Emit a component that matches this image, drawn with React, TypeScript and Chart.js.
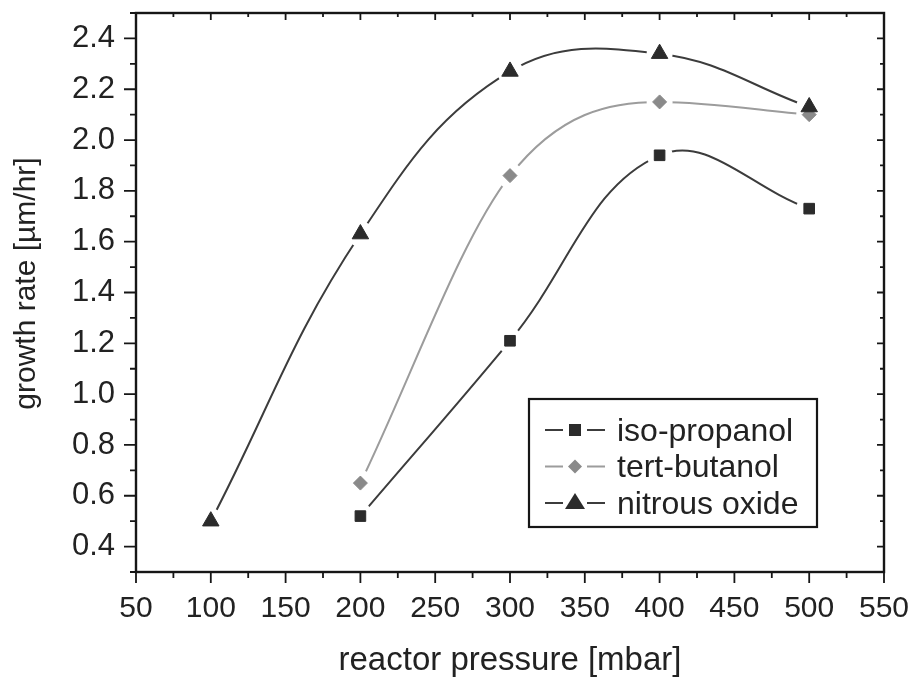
import React, { useEffect, useRef } from 'react';
import { Chart, registerables } from 'chart.js';

Chart.register(...registerables);

// Reactor pressure settings [mbar]
const pressure = [100, 200, 300, 400, 500];

// Growth rate [µm/hr] per precursor (null = not measured)
const isoPropanol = [null, 0.52, 1.21, 1.94, 1.73];
const tertButanol = [null, 0.65, 1.86, 2.15, 2.1];
const nitrousOxide = [0.5, 1.63, 2.27, 2.34, 2.13];

const seriesNames = ['iso-propanol', 'tert-butanol', 'nitrous oxide'];

// Labelled axis ticks
const xTicks = [50, 100, 150, 200, 250, 300, 350, 400, 450, 500, 550];
const yTicks = [0.4, 0.6, 0.8, 1.0, 1.2, 1.4, 1.6, 1.8, 2.0, 2.2, 2.4];

const FONT = "'Liberation Sans', Arial, Helvetica, sans-serif";
const TEXT = '#222';
const FRAME = '#161616';

type Style = {
  line: string;
  marker: string;
  shape: 'rect' | 'rectRot' | 'triangle';
  radius: number;
  curve: 'default' | 'monotone';
};

const styles: Style[] = [
  { line: '#3c3c3c', marker: '#2b2b2b', shape: 'rect', radius: 7.5, curve: 'default' },
  { line: '#9c9c9c', marker: '#8a8a8a', shape: 'rectRot', radius: 7, curve: 'monotone' },
  { line: '#3c3c3c', marker: '#2b2b2b', shape: 'triangle', radius: 9.5, curve: 'default' },
];

const seriesValues = [isoPropanol, tertButanol, nitrousOxide];

function toPoints(values: (number | null)[]) {
  return pressure
    .map((p, i) => ({ x: p, y: values[i] }))
    .filter((pt) => pt.y !== null) as { x: number; y: number }[];
}

// midpoints between labelled ticks, plus one half step beyond each end
function minorTicks(major: number[]) {
  const step = major[1] - major[0];
  const out: number[] = [major[0] - step / 2];
  for (let i = 0; i < major.length - 1; i++) out.push((major[i] + major[i + 1]) / 2);
  out.push(major[major.length - 1] + step / 2);
  return out;
}

const frameAndTicks = {
  id: 'frameAndTicks',
  afterDatasetsDraw(chart: any) {
    const { ctx, chartArea: a, scales } = chart;
    const x = scales.x;
    const y = scales.y;
    ctx.save();
    ctx.strokeStyle = FRAME;
    ctx.lineWidth = 1.8;
    ctx.beginPath();
    const inRange = (v: number, s: any) => v >= s.min - 1e-9 && v <= s.max + 1e-9;
    // bottom/left ticks point outwards, top/right ticks point inwards
    const tickX = (v: number, out: number, inn: number) => {
      if (!inRange(v, x)) return;
      const px = x.getPixelForValue(v);
      ctx.moveTo(px, a.bottom);
      ctx.lineTo(px, a.bottom + out);
      ctx.moveTo(px, a.top);
      ctx.lineTo(px, a.top + inn);
    };
    const tickY = (v: number, out: number, inn: number) => {
      if (!inRange(v, y)) return;
      const py = y.getPixelForValue(v);
      ctx.moveTo(a.left, py);
      ctx.lineTo(a.left - out, py);
      ctx.moveTo(a.right, py);
      ctx.lineTo(a.right - inn, py);
    };
    xTicks.forEach((v) => tickX(v, 11, 7));
    minorTicks(xTicks).forEach((v) => tickX(v, 6, 4));
    yTicks.forEach((v) => tickY(v, 12, 7));
    minorTicks(yTicks).forEach((v) => tickY(v, 6, 4));
    ctx.stroke();

    ctx.lineWidth = 2.4;
    ctx.strokeRect(a.left, a.top, a.right - a.left, a.bottom - a.top);
    ctx.restore();
  },
};

// vertical axis title, centred a little above the middle of the plot
const yTitle = {
  id: 'yTitle',
  afterDraw(chart: any) {
    const { ctx, chartArea: a } = chart;
    ctx.save();
    ctx.translate(27, (a.top + a.bottom) / 2 - 9);
    ctx.rotate(-Math.PI / 2);
    ctx.font = `30px ${FONT}`;
    ctx.fillStyle = TEXT;
    ctx.textAlign = 'center';
    ctx.textBaseline = 'middle';
    ctx.fillText('growth rate [µm/hr]', 0, 0);
    ctx.restore();
  },
};

function drawMarker(ctx: CanvasRenderingContext2D, shape: string, cx: number, cy: number, color: string) {
  ctx.fillStyle = color;
  ctx.beginPath();
  if (shape === 'rect') {
    ctx.rect(cx - 6, cy - 6, 12, 12);
  } else if (shape === 'rectRot') {
    ctx.moveTo(cx, cy - 7);
    ctx.lineTo(cx + 7, cy);
    ctx.lineTo(cx, cy + 7);
    ctx.lineTo(cx - 7, cy);
    ctx.closePath();
  } else {
    ctx.moveTo(cx, cy - 10);
    ctx.lineTo(cx + 10, cy + 6);
    ctx.lineTo(cx - 10, cy + 6);
    ctx.closePath();
  }
  ctx.fill();
}

const boxLegend = {
  id: 'boxLegend',
  afterDraw(chart: any) {
    const { ctx } = chart;
    const left = 529;
    const top = 399;
    const w = 288;
    const h = 128;
    ctx.save();
    ctx.fillStyle = '#fff';
    ctx.fillRect(left, top, w, h);
    ctx.strokeStyle = FRAME;
    ctx.lineWidth = 2.2;
    ctx.strokeRect(left, top, w, h);

    ctx.font = `32px ${FONT}`;
    ctx.textBaseline = 'middle';
    ctx.textAlign = 'left';
    seriesNames.forEach((name, i) => {
      const s = styles[i];
      const cy = top + 31 + i * 36.5;
      ctx.strokeStyle = s.line;
      ctx.lineWidth = 2.2;
      ctx.beginPath();
      ctx.moveTo(left + 16, cy);
      ctx.lineTo(left + 34, cy);
      ctx.moveTo(left + 58, cy);
      ctx.lineTo(left + 76, cy);
      ctx.stroke();
      drawMarker(ctx, s.shape, left + 46, cy, s.marker);
      ctx.fillStyle = TEXT;
      ctx.fillText(name, left + 88, cy + 2);
    });
    ctx.restore();
  },
};

// keep the plot frame where the layout padding puts it
const noLabelPadding = (s: any) => {
  s.paddingTop = 0;
  s.paddingBottom = 0;
  s.paddingLeft = 0;
  s.paddingRight = 0;
};

export default function App() {
  const canvasRef = useRef<HTMLCanvasElement | null>(null);

  useEffect(() => {
    if (!canvasRef.current) return;

    const lineSets = seriesValues.map((vals, i) => ({
      label: seriesNames[i],
      data: toPoints(vals),
      borderColor: styles[i].line,
      borderWidth: 2,
      pointRadius: 0,
      tension: 0.4,
      cubicInterpolationMode: styles[i].curve,
      fill: false,
      order: 30,
    }));
    // white discs that open a small gap in the curves around each marker
    const haloSets = seriesValues.map((vals) => ({
      data: toPoints(vals),
      showLine: false,
      pointStyle: 'circle',
      pointRadius: 13,
      pointBackgroundColor: '#fff',
      pointBorderWidth: 0,
      order: 20,
    }));
    const markerSets = seriesValues.map((vals, i) => ({
      data: toPoints(vals),
      showLine: false,
      pointStyle: styles[i].shape,
      pointRadius: styles[i].radius,
      pointBackgroundColor: styles[i].marker,
      pointBorderColor: styles[i].marker,
      pointBorderWidth: 1,
      order: 10 - i,
    }));

    const chart = new Chart(canvasRef.current, {
      type: 'line',
      data: { datasets: [...lineSets, ...haloSets, ...markerSets] as any },
      options: {
        responsive: false,
        animation: false,
        events: [],
        layout: { padding: { top: 8, right: 33, left: 0, bottom: 0 } },
        plugins: {
          legend: { display: false },
          tooltip: { enabled: false },
        },
        scales: {
          x: {
            type: 'linear',
            min: 50,
            max: 550,
            grid: { display: false, drawTicks: false },
            border: { display: false },
            afterBuildTicks: (s: any) => {
              s.ticks = xTicks.map((v) => ({ value: v }));
            },
            afterFit: (s: any) => {
              s.height = 109;
              noLabelPadding(s);
            },
            ticks: {
              padding: 19,
              color: TEXT,
              font: { family: FONT, size: 30 },
              maxRotation: 0,
              autoSkip: false,
              callback: (v: any) => String(v),
            },
            title: {
              display: true,
              text: 'reactor pressure [mbar]',
              color: TEXT,
              font: { family: FONT, size: 33, lineHeight: 1 },
              padding: { top: 0, bottom: 4 },
            },
          },
          y: {
            type: 'linear',
            min: 0.3,
            max: 2.5,
            grid: { display: false, drawTicks: false },
            border: { display: false },
            afterBuildTicks: (s: any) => {
              s.ticks = yTicks.map((v) => ({ value: v }));
            },
            afterFit: (s: any) => {
              s.width = 136;
              noLabelPadding(s);
            },
            ticks: {
              padding: 21,
              color: TEXT,
              font: { family: FONT, size: 31 },
              autoSkip: false,
              callback: (v: any) => Number(v).toFixed(1),
            },
          },
        },
      },
      plugins: [frameAndTicks, yTitle, boxLegend],
    });

    return () => chart.destroy();
  }, []);

  return (
    <div style={{ position: 'absolute', left: 0, top: 0, width: 917, height: 681, background: '#fff' }}>
      <canvas ref={canvasRef} width={917} height={681} />
    </div>
  );
}
